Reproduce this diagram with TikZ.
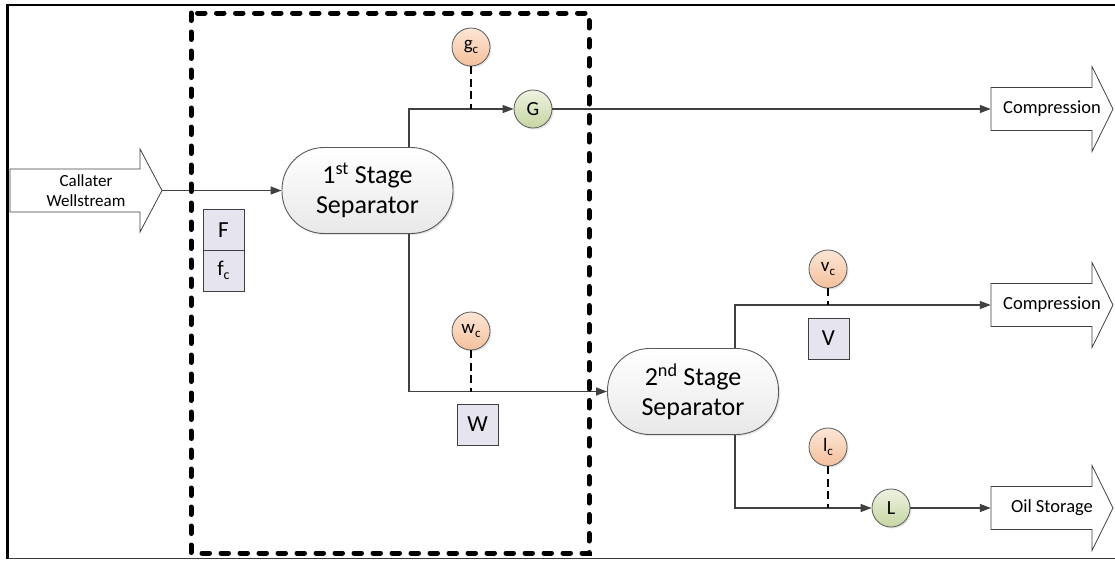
\documentclass[tikz,border=0pt]{standalone}
\usepackage{fontspec}
\setmainfont{Carlito}
\usetikzlibrary{arrows.meta,shadows}

\definecolor{flowgrey}{HTML}{404040}
\definecolor{edgegrey}{HTML}{595959}
\definecolor{sepshade}{HTML}{E8E8E8}
\definecolor{peachlight}{HTML}{FCE6D6}
\definecolor{peachdark}{HTML}{F4C09C}
\definecolor{greenlight}{HTML}{EDF2E0}
\definecolor{greendark}{HTML}{C6D6A2}
\definecolor{tagfill}{HTML}{E6E4EF}
\definecolor{framegrey}{HTML}{3A3A3A}

% letter with a small lowered "c"-style index
\newcommand\withidx[3]{#1\raisebox{-0.22em}{\fontsize{#3}{#3}\selectfont #2}}

\tikzset{
  softshadow/.style={drop shadow={opacity=0.22, shadow xshift=1.5pt, shadow yshift=-1.5pt}},
  sepbox/.style={draw=edgegrey, line width=0.9pt, rounded corners=42pt,
    minimum width=171pt, minimum height=86pt, inner sep=0pt,
    top color=white, bottom color=sepshade, align=center,
    font=\fontsize{26}{30}\selectfont, softshadow},
  tagcirc/.style={circle, draw=edgegrey, line width=0.8pt, minimum size=38pt, inner sep=0pt,
    top color=peachlight, bottom color=peachdark, font=\fontsize{19}{19}\selectfont, softshadow},
  streamcirc/.style={circle, draw=edgegrey, line width=0.8pt, minimum size=38pt, inner sep=0pt,
    top color=greenlight, bottom color=greendark, font=\fontsize{20}{20}\selectfont, softshadow},
  varbox/.style={draw=flowgrey, line width=0.9pt, fill=tagfill, minimum width=41pt,
    minimum height=41pt, inner sep=0pt, font=\fontsize{23}{23}\selectfont},
  arrowtext/.style={inner sep=0pt, minimum height=43pt, align=center},
  arrowoutline/.style={draw=flowgrey, line width=0.8pt, fill=white, line join=miter},
  flow/.style={draw=flowgrey, line width=1.3pt, -{Triangle[length=11pt,width=8pt]}},
  probe/.style={draw=black, line width=1.2pt, dash pattern=on 8pt off 4.5pt},
  envelope/.style={draw=black, line width=5pt, line cap=round, dash pattern=on 7.5pt off 11.5pt},
}

\begin{document}
\begin{tikzpicture}[x=1pt, y=-1pt]
\useasboundingbox (0,0) rectangle (1115,560);

% page frame
\draw[black, line width=2.6pt] (7.5,559) -- (7.5,5) -- (1115,5);
\draw[framegrey, line width=1.4pt] (7.5,558.5) -- (1115,558.5);

% block arrows for the feed and the three product streams
\draw[arrowoutline] (10,169) -- (140,169) -- (140,149) -- (162,190.5) -- (140,232) -- (140,212) -- (10,212) -- cycle;
\node[arrowtext, minimum width=152pt, font=\fontsize{17}{20.5}\selectfont] (inflow) at (86,190.5) {Callater\\Wellstream};

\draw[arrowoutline] (991,87.5) -- (1092,87.5) -- (1092,66.5) -- (1113,109) -- (1092,151.5) -- (1092,130.5) -- (991,130.5) -- cycle;
\node[arrowtext, minimum width=122pt, font=\fontsize{18.5}{18.5}\selectfont] (comp1) at (1052,109) {Compression};

\draw[arrowoutline] (991,283.5) -- (1092,283.5) -- (1092,262.5) -- (1113,305) -- (1092,347.5) -- (1092,326.5) -- (991,326.5) -- cycle;
\node[arrowtext, minimum width=122pt, font=\fontsize{18.5}{18.5}\selectfont] (comp2) at (1052,305) {Compression};

\draw[arrowoutline] (991,486.5) -- (1092,486.5) -- (1092,465.5) -- (1113,508) -- (1092,550.5) -- (1092,529.5) -- (991,529.5) -- cycle;
\node[arrowtext, minimum width=122pt, font=\fontsize{18.5}{18.5}\selectfont] (oil) at (1052,508) {Oil Storage};

% separators
\node[sepbox] (sep1) at (367.5,190.5) {1\textsuperscript{st} Stage\\Separator};
\node[sepbox] (sep2) at (693,391.5) {2\textsuperscript{nd} Stage\\Separator};

% stream nodes and composition tags
\node[streamcirc] (G) at (533,109) {G};
\node[streamcirc] (L) at (891,508) {L};
\node[tagcirc] (gc) at (471,47) {\withidx{g}{c}{13}};
\node[tagcirc] (wc) at (471,331) {\withidx{w}{c}{13}};
\node[tagcirc] (vc) at (828,269) {\withidx{v}{c}{13}};
\node[tagcirc] (lc) at (828,447) {\withidx{l}{c}{13}};

% flow-rate boxes
\node[varbox] (F) at (223.5,230) {F};
\node[varbox, font=\fontsize{21}{21}\selectfont] (fc) at (223.5,270.5) {\withidx{f}{c}{14}};
\node[varbox] (W) at (477.5,424.5) {W};
\node[varbox] (V) at (828.5,338.5) {V};

% process streams
\draw[flow] (inflow.east) -- (sep1.west);
\draw[flow] ([xshift=41.5pt]sep1.north) |- (G.west);
\draw[flow] (G.east) -- (G.east -| comp1.west);
\draw[flow] ([xshift=41.5pt]sep1.south) |- (sep2.west);
\draw[flow] ([xshift=42pt]sep2.north) |- (comp2.west);
\draw[flow] ([xshift=42pt]sep2.south) |- (L.west);
\draw[flow] (L.east) -- (oil.west);

% composition probes
\draw[probe] (gc.south) -- (gc.south |- G.west);
\draw[probe] (wc.south) -- (wc.south |- sep2.west);
\draw[probe] (vc.south) -- (vc.south |- comp2.west);
\draw[probe] (lc.south) -- (lc.south |- L.west);

% control envelope round the first stage
\draw[envelope] (191,13) rectangle (589,553);
\end{tikzpicture}
\end{document}
